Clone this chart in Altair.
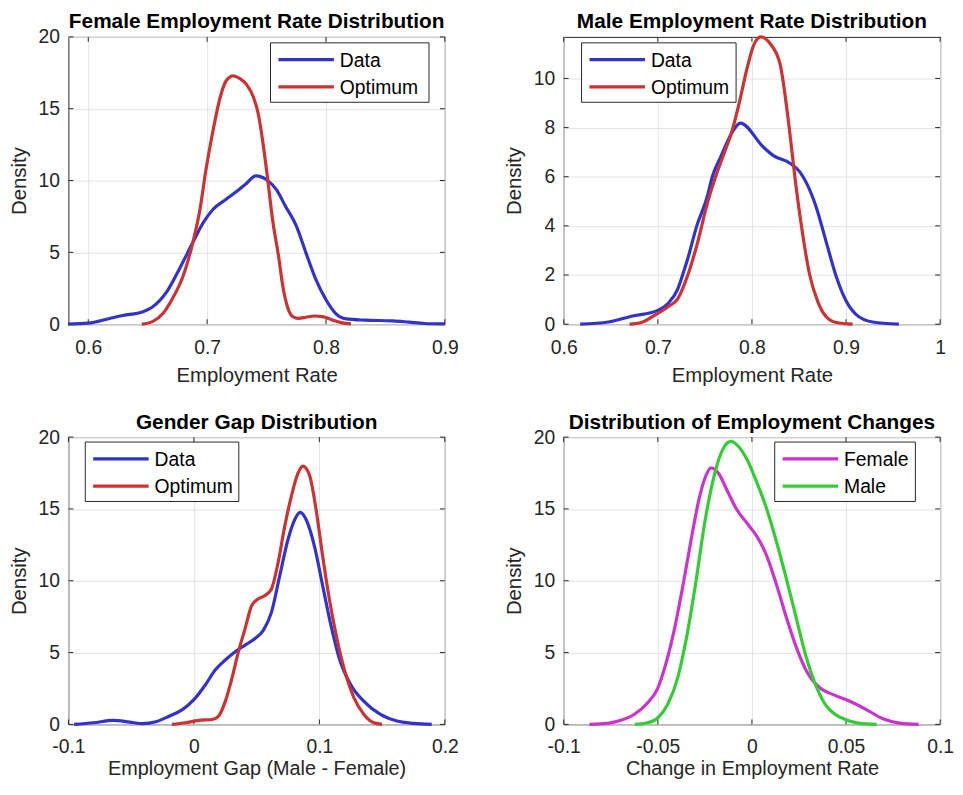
import altair as alt
import pandas as pd

FONT = "Liberation Sans"
INK = "#262626"
BLUE = "#3232CC"
RED = "#CC3232"
MAGENTA = "#CC33CC"
GREEN = "#33CC33"

# ---- Panel 1: Female employment rate ----
f_data_x = [0.583, 0.6, 0.618, 0.629, 0.646, 0.654, 0.666, 0.677, 0.688, 0.697, 0.705, 0.716, 0.725, 0.733,
            0.741, 0.750, 0.758, 0.766, 0.775, 0.783, 0.791, 0.8, 0.808, 0.817, 0.833, 0.856, 0.870, 0.883, 0.9]
f_data_y = [0.0, 0.07, 0.4, 0.6, 0.87, 1.2, 2.25, 3.9, 5.7, 7.1, 8.0, 8.7, 9.25, 9.8,
            10.33, 10.06, 9.4, 8.2, 6.85, 5.0, 3.2, 1.7, 0.76, 0.37, 0.28, 0.23, 0.14, 0.05, 0.02]
f_opt_x = [0.645, 0.654, 0.663, 0.671, 0.680, 0.688, 0.694, 0.699, 0.705, 0.711, 0.716, 0.722, 0.727, 0.733,
           0.739, 0.743, 0.747, 0.751, 0.755, 0.760, 0.764, 0.768, 0.772, 0.777, 0.783, 0.790, 0.797, 0.805,
           0.813, 0.821]
f_opt_y = [0.0, 0.18, 0.76, 1.8, 3.4, 5.7, 8.0, 10.75, 13.5, 15.8, 16.95, 17.29, 17.13, 16.7,
           15.8, 14.65, 12.6, 10.06, 7.3, 4.78, 2.48, 1.1, 0.53, 0.41, 0.48, 0.57, 0.53, 0.3,
           0.11, 0.02]

# ---- Panel 2: Male employment rate ----
m_data_x = [0.6175, 0.6474, 0.6719, 0.7, 0.7105, 0.7211, 0.7263, 0.7316, 0.7414, 0.7526, 0.7579, 0.7667,
            0.7789, 0.7877, 0.8123, 0.8228, 0.8404, 0.8509, 0.8579, 0.8684, 0.8789, 0.8895, 0.9, 0.9105,
            0.9281, 0.9561]
m_data_y = [0.0, 0.09, 0.32, 0.56, 0.83, 1.43, 2.0, 2.64, 4.0, 5.2, 6.0, 6.8,
            7.8, 8.18, 7.2, 6.86, 6.55, 6.2, 5.75, 4.75, 3.35, 1.95, 0.95, 0.4,
            0.09, 0.0]
m_opt_x = [0.670, 0.6825, 0.6965, 0.7105, 0.7211, 0.7316, 0.7421, 0.7526, 0.7614, 0.7702, 0.7789, 0.7877,
           0.7947, 0.8018, 0.8095, 0.8193, 0.8298, 0.8396, 0.8456, 0.8526, 0.8614, 0.8702, 0.8789, 0.8895,
           0.907]
m_opt_y = [0.0, 0.07, 0.36, 0.7, 1.03, 1.97, 3.3, 4.92, 6.0, 6.93, 7.87, 9.2,
           10.4, 11.35, 11.69, 11.42, 10.6, 8.0, 6.0, 4.0, 2.0, 0.9, 0.3, 0.07,
           0.0]

# ---- Panel 3: Gender gap ----
g_data_x = [-0.0955, -0.080, -0.0645, -0.0513, -0.0408, -0.0303, -0.0197, -0.0092, 0.0, 0.0092, 0.0171,
            0.025, 0.0329, 0.0408, 0.0487, 0.0553, 0.0618, 0.0684, 0.075, 0.0803, 0.0847, 0.0895, 0.0961,
            0.1026, 0.1092, 0.1158, 0.125, 0.1355, 0.1487, 0.1618, 0.175, 0.1895]
g_data_y = [0.0, 0.11, 0.28, 0.16, 0.05, 0.18, 0.57, 1.03, 1.72, 2.76, 3.8,
            4.48, 5.06, 5.52, 5.98, 6.55, 7.8, 10.34, 12.87, 14.25, 14.76, 14.25, 12.4,
            9.66, 6.9, 4.6, 2.76, 1.6, 0.69, 0.23, 0.07, 0.0]
g_opt_x = [-0.0176, -0.0066, 0.0039, 0.0145, 0.0197, 0.025, 0.0303, 0.0355, 0.0408, 0.0461, 0.0513,
           0.0566, 0.0618, 0.0671, 0.0724, 0.0776, 0.0829, 0.0868, 0.0921, 0.0974, 0.1026, 0.1079,
           0.1145, 0.1211, 0.1276, 0.1355, 0.1434, 0.15]
g_opt_y = [0.0, 0.11, 0.28, 0.34, 0.57, 1.6, 3.2, 5.06, 6.67, 8.28, 8.74,
           8.97, 9.43, 11.26, 13.8, 15.86, 17.47, 17.98, 17.36, 14.94, 11.72, 8.74,
           5.75, 3.45, 1.84, 0.69, 0.11, 0.0]

# ---- Panel 4: Employment changes ----
c_fem_x = [-0.0863, -0.0766, -0.0696, -0.0626, -0.0555, -0.05, -0.0459, -0.0415, -0.037, -0.0326,
           -0.0282, -0.0247, -0.0217, -0.0177, -0.0133, -0.008, -0.0027, 0.0026, 0.0079, 0.0132,
           0.0185, 0.0238, 0.0291, 0.0362, 0.0432, 0.052, 0.0608, 0.0696, 0.0784, 0.0886]
c_fem_y = [0.0, 0.07, 0.28, 0.69, 1.49, 2.53, 4.14, 6.44, 9.43, 12.64,
           15.63, 17.24, 17.86, 17.47, 16.32, 14.94, 14.02, 13.1, 11.72, 9.66,
           7.36, 5.29, 3.68, 2.53, 2.07, 1.61, 1.03, 0.39, 0.09, 0.0]
c_male_x = [-0.0622, -0.0555, -0.05, -0.0448, -0.0395, -0.0342, -0.0298, -0.0254, -0.0218, -0.0183,
            -0.0148, -0.0112, -0.0077, -0.0024, 0.0021, 0.0074, 0.0127, 0.0179, 0.0232, 0.0285,
            0.0338, 0.039, 0.0443, 0.0496, 0.0566, 0.0663]
c_male_y = [0.0, 0.11, 0.46, 1.38, 3.22, 6.44, 9.89, 13.8, 16.32, 18.16,
            19.31, 19.7, 19.43, 18.39, 17.01, 15.17, 12.87, 10.34, 7.59, 4.83,
            2.76, 1.38, 0.69, 0.34, 0.09, 0.0]

W, H = 380, 290
TICK = 5


def panel(title, xlabel, series, names, colors, xdom, ydom, xticks, yticks,
          leg_x, leg_y, leg_w, xlabel_pad, xtitle_pad, xtitle_size):
    rows = []
    for (xs, ys), name in zip(series, names):
        for a, b in zip(xs, ys):
            rows.append({"x": a, "y": b, "s": name})
    df = pd.DataFrame(rows)
    xs = alt.Scale(domain=xdom, nice=False, zero=False)
    ys = alt.Scale(domain=ydom, nice=False, zero=False)
    xax = alt.Axis(values=xticks, title=xlabel, labelExpr="'' + datum.value",
                   labelPadding=xlabel_pad, titlePadding=xtitle_pad, titleFontSize=xtitle_size)
    yax = alt.Axis(values=yticks, title="Density", labelExpr="'' + datum.value")

    lines = alt.Chart(df).mark_line(strokeWidth=3.2, interpolate="monotone").encode(
        x=alt.X("x:Q", scale=xs, axis=xax),
        y=alt.Y("y:Q", scale=ys, axis=yax),
        color=alt.Color("s:N", sort=names, scale=alt.Scale(domain=names, range=colors), legend=None),
        order=alt.Order("x:Q"),
        detail="s:N",
    )

    xt = pd.DataFrame({"x": xticks})
    yt = pd.DataFrame({"y": yticks})
    xenc = alt.X("x:Q", scale=xs, axis=xax)
    yenc = alt.Y("y:Q", scale=ys, axis=yax)
    tick_b = alt.Chart(xt).mark_rule(color=INK, strokeWidth=1).encode(
        x=xenc, y=alt.value(H), y2=alt.value(H - TICK))
    tick_t = alt.Chart(xt).mark_rule(color=INK, strokeWidth=1).encode(
        x=xenc, y=alt.value(0), y2=alt.value(TICK))
    tick_l = alt.Chart(yt).mark_rule(color=INK, strokeWidth=1).encode(
        y=yenc, x=alt.value(0), x2=alt.value(TICK))
    tick_r = alt.Chart(yt).mark_rule(color=INK, strokeWidth=1).encode(
        y=yenc, x=alt.value(W), x2=alt.value(W - TICK))

    # title as a text mark right above the plot box (MATLAB style)
    ttl = alt.Chart(pd.DataFrame({"t": [title]})).mark_text(
        font=FONT, fontSize=21, fontWeight="bold", color="black",
        align="center", baseline="top").encode(
        x=alt.value(W / 2), y=alt.value(-25.6), text="t:N")

    # legend box (MATLAB style)
    one = pd.DataFrame({"k": [0]})
    box = alt.Chart(one).mark_rect(fill="white", stroke=INK, strokeWidth=1).encode(
        x=alt.value(leg_x), x2=alt.value(leg_x + leg_w),
        y=alt.value(leg_y), y2=alt.value(leg_y + 60))
    entries = []
    for i, (name, col) in enumerate(zip(names, colors)):
        ry = leg_y + 17 + 27.5 * i
        d = pd.DataFrame({"s": [name]})
        entries.append(alt.Chart(d).mark_rule(strokeWidth=3.2, color=col).encode(
            x=alt.value(leg_x + 8), x2=alt.value(leg_x + 64), y=alt.value(ry)))
        entries.append(alt.Chart(d).mark_text(font=FONT, fontSize=19.5, color="black",
                                              align="left", baseline="middle").encode(
            x=alt.value(leg_x + 70), y=alt.value(ry + 1), text="s:N"))

    return alt.layer(tick_b, tick_t, tick_l, tick_r, lines, box, *entries, ttl).properties(
        width=W, height=H,
    )


p1 = panel("Female Employment Rate Distribution", "Employment Rate",
           [(f_data_x, f_data_y), (f_opt_x, f_opt_y)], ["Data", "Optimum"], [BLUE, RED],
           [0.5833, 0.9], [0, 20], [0.6, 0.7, 0.8, 0.9], [0, 5, 10, 15, 20], 204, 6, 160,
           14.5, 8.6, 20.5)
p2 = panel("Male Employment Rate Distribution", "Employment Rate",
           [(m_data_x, m_data_y), (m_opt_x, m_opt_y)], ["Data", "Optimum"], [BLUE, RED],
           [0.6, 1.0], [0, 11.69], [0.6, 0.7, 0.8, 0.9, 1.0], [0, 2, 4, 6, 8, 10], 18, 6, 156,
           14.5, 8.6, 20.5)
p3 = panel("Gender Gap Distribution", "Employment Gap (Male - Female)",
           [(g_data_x, g_data_y), (g_opt_x, g_opt_y)], ["Data", "Optimum"], [BLUE, RED],
           [-0.1, 0.2], [0, 20], [-0.1, 0.0, 0.1, 0.2], [0, 5, 10, 15, 20], 17, 5, 155,
           13.5, 3, 20)
p4 = panel("Distribution of Employment Changes", "Change in Employment Rate",
           [(c_fem_x, c_fem_y), (c_male_x, c_male_y)], ["Female", "Male"], [MAGENTA, GREEN],
           [-0.1, 0.1], [0, 20], [-0.1, -0.05, 0.0, 0.05, 0.1], [0, 5, 10, 15, 20], 213, 5, 142,
           13.5, 3, 20)

chart = alt.concat(p1, p2, p3, p4, columns=2, spacing={"row": 114, "column": 120}).properties(
    bounds="flush",
    padding={"left": 0, "top": -1.5, "right": 0, "bottom": 0},
    background="white",
).resolve_scale(color="independent", x="independent", y="independent").configure_view(
    stroke=INK, strokeWidth=1
).configure_axis(
    domain=False, ticks=False, grid=True, gridColor="#e3e3e3", gridWidth=1, labelFlush=False,
    labelFont=FONT, labelFontSize=19.5, labelColor=INK,
    titleFont=FONT, titleFontSize=20.5, titleFontWeight="normal", titleColor=INK,
).configure_axisY(labelPadding=9, titlePadding=9)

chart.save("out.html", embed_options={"renderer": "svg", "actions": False})
